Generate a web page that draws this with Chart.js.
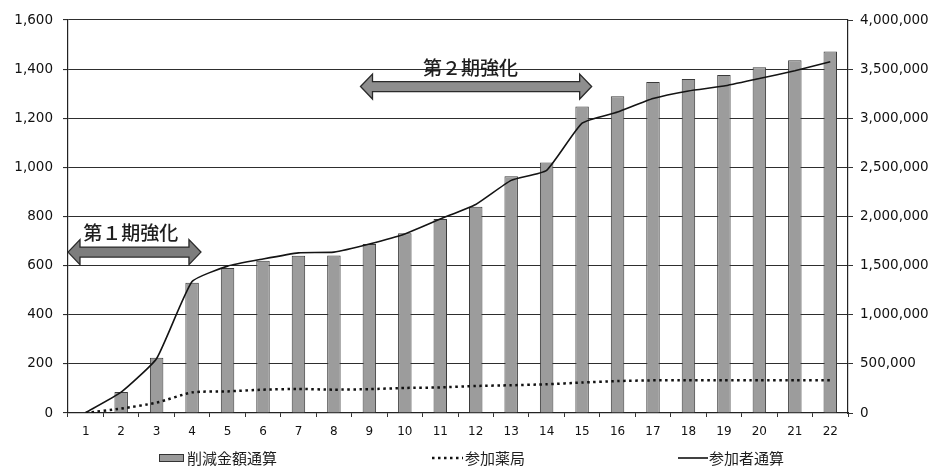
<!DOCTYPE html>
<html>
<head>
<meta charset="utf-8">
<script src="https://cdn.jsdelivr.net/npm/chart.js@4/dist/chart.umd.min.js"></script>
<style>
  html, body { margin: 0; padding: 0; background: #ffffff; }
  #wrap { width: 937px; height: 467px; }
</style>
</head>
<body>
<div id="wrap"><canvas id="c" width="937" height="467"></canvas></div>
<script>
// Month index along the bottom axis
const categories = ['1','2','3','4','5','6','7','8','9','10','11','12','13','14','15','16','17','18','19','20','21','22'];

// 削減金額通算 (yen, right axis)
const savingsTotal = [8000, 212500, 562500, 1325000, 1475000, 1550000, 1600000, 1602000, 1720000, 1830000, 1975000,
                      2100000, 2410000, 2550000, 3120000, 3225000, 3370000, 3400000, 3440000, 3520000, 3590000, 3680000];

// 参加薬局 (left axis)
const pharmacies = [0, 18, 42, 84, 88, 95, 98, 95, 97, 102, 104, 110, 113, 117, 124, 130, 133, 133, 133, 133, 133, 133];

// 参加者通算 (left axis)
const participantsTotal = [2, 85, 222, 535, 598, 627, 652, 655, 688, 729, 790, 849, 947, 988, 1180, 1225, 1280, 1311, 1331, 1362, 1393, 1430];

// Axis tick settings
const leftTicks = { min: 0, max: 1600, step: 200 };
const rightTicks = { min: 0, max: 4000000, step: 500000 };

// Legend labels
const legendLabels = ['削減金額通算', '参加薬局', '参加者通算'];

// Campaign period markers: span along the category axis and height on the left axis
const periods = [
  { label: '第１期強化', from: -0.5, to: 3.25, arrowAt: 655, textAt: 733, textX: 1.27, fill: '#7d7d7d' },
  { label: '第２期強化', from: 7.75, to: 14.27, arrowAt: 1329, textAt: 1406, textX: 10.85, fill: '#8e8e8e' }
];

const tickFont = { family: "'DejaVu Sans', Verdana, sans-serif", size: 13.5 };
const cjkFont = "'Noto Sans CJK JP', 'Noto Sans', sans-serif";

function fmt(v) { return Number(v).toLocaleString('en-US'); }

function drawDoubleArrow(ctx, x1, x2, y, fill) {
  const head = 12, halfHead = 12.5, halfShaft = 5;
  ctx.save();
  ctx.beginPath();
  ctx.moveTo(x1, y);
  ctx.lineTo(x1 + head, y - halfHead);
  ctx.lineTo(x1 + head, y - halfShaft);
  ctx.lineTo(x2 - head, y - halfShaft);
  ctx.lineTo(x2 - head, y - halfHead);
  ctx.lineTo(x2, y);
  ctx.lineTo(x2 - head, y + halfHead);
  ctx.lineTo(x2 - head, y + halfShaft);
  ctx.lineTo(x1 + head, y + halfShaft);
  ctx.lineTo(x1 + head, y + halfHead);
  ctx.closePath();
  ctx.fillStyle = fill;
  ctx.fill();
  ctx.lineWidth = 1.3;
  ctx.strokeStyle = '#2a2a2a';
  ctx.stroke();
  ctx.restore();
}

const periodPlugin = {
  id: 'periodMarkers',
  afterDatasetsDraw(chart) {
    const ctx = chart.ctx;
    const xs = chart.scales.x, ys = chart.scales.y;
    periods.forEach(p => {
      const x1 = xs.getPixelForValue(p.from);
      const x2 = xs.getPixelForValue(p.to);
      drawDoubleArrow(ctx, x1, x2, ys.getPixelForValue(p.arrowAt), p.fill);
      ctx.save();
      ctx.font = '500 19px ' + cjkFont;
      ctx.fillStyle = '#1e1e1e';
      ctx.textAlign = 'center';
      ctx.textBaseline = 'middle';
      ctx.fillText(p.label, xs.getPixelForValue(p.textX), ys.getPixelForValue(p.textAt));
      ctx.restore();
    });
  }
};

const legendPlugin = {
  id: 'bottomLegend',
  afterDraw(chart) {
    const ctx = chart.ctx;
    const y = chart.height - 9;
    ctx.save();
    ctx.font = '15px ' + cjkFont;
    ctx.textBaseline = 'middle';
    ctx.textAlign = 'left';
    // bars
    ctx.fillStyle = '#9a9a9a';
    ctx.fillRect(159, y - 3.5, 24, 7);
    ctx.strokeStyle = '#333';
    ctx.lineWidth = 1;
    ctx.strokeRect(159.5, y - 3.5, 24, 7);
    ctx.fillStyle = '#1e1e1e';
    ctx.fillText(legendLabels[0], 187, y);
    // dotted line
    ctx.beginPath();
    ctx.setLineDash([2.5, 3.5]);
    ctx.lineWidth = 2.5;
    ctx.strokeStyle = '#111';
    ctx.moveTo(432, y);
    ctx.lineTo(463, y);
    ctx.stroke();
    ctx.fillText(legendLabels[1], 465, y);
    // solid line
    ctx.beginPath();
    ctx.setLineDash([]);
    ctx.lineWidth = 1.6;
    ctx.moveTo(678, y);
    ctx.lineTo(708, y);
    ctx.stroke();
    ctx.fillText(legendLabels[2], 709, y);
    ctx.restore();
  }
};

new Chart(document.getElementById('c'), {
  type: 'bar',
  data: {
    labels: categories,
    datasets: [
      {
        type: 'line',
        label: legendLabels[2],
        data: participantsTotal,
        yAxisID: 'y',
        borderColor: '#141414',
        borderWidth: 1.6,
        pointRadius: 0,
        tension: 0.15,
        fill: false,
        order: 0
      },
      {
        type: 'line',
        label: legendLabels[1],
        data: pharmacies,
        yAxisID: 'y',
        borderColor: '#111111',
        borderWidth: 2.5,
        borderDash: [2.5, 3.5],
        pointRadius: 0,
        tension: 0.2,
        fill: false,
        order: 1
      },
      {
        type: 'bar',
        label: legendLabels[0],
        data: savingsTotal,
        yAxisID: 'y1',
        backgroundColor: '#9c9c9c',
        borderColor: '#3a3a3a',
        borderWidth: 1,
        categoryPercentage: 1,
        barPercentage: 0.38,
        order: 2
      }
    ]
  },
  options: {
    responsive: false,
    devicePixelRatio: 1,
    animation: false,
    layout: { padding: { top: 20, bottom: 30, left: 0, right: 0 } },
    plugins: {
      legend: { display: false },
      tooltip: { enabled: false }
    },
    scales: {
      x: {
        offset: true,
        grid: { display: true, drawOnChartArea: false, drawTicks: true, tickLength: 4, offset: true, color: '#333' },
        border: { display: true, color: '#222', width: 1.2 },
        ticks: { font: { family: tickFont.family, size: 12 }, color: '#111', padding: 8, maxRotation: 0, autoSkip: false },
        afterFit(s) { s.height = 24; }
      },
      y: {
        position: 'left',
        min: leftTicks.min,
        max: leftTicks.max,
        grid: { color: '#2e2e2e', lineWidth: 1.1, tickLength: 5 },
        border: { display: true, color: '#222', width: 1.2 },
        ticks: { stepSize: leftTicks.step, font: tickFont, color: '#111', padding: 10, callback: v => fmt(v) },
        afterFit(s) { s.width = 68; }
      },
      y1: {
        position: 'right',
        min: rightTicks.min,
        max: rightTicks.max,
        grid: { drawOnChartArea: false, tickLength: 5, color: '#333' },
        border: { display: true, color: '#222', width: 1.2 },
        ticks: { stepSize: rightTicks.step, font: tickFont, color: '#111', padding: 7, callback: v => fmt(v) },
        afterFit(s) { s.width = 89; }
      }
    }
  },
  plugins: [periodPlugin, legendPlugin]
});
</script>
</body>
</html>
